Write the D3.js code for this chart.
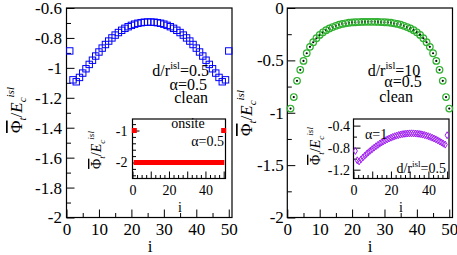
<!DOCTYPE html>
<html>
<head>
<meta charset="utf-8">
<script src="https://cdn.jsdelivr.net/npm/d3@7/dist/d3.min.js"></script>
<style>
  body { margin: 0; background: #fff; }
</style>
</head>
<body>
<svg id="chart" width="457" height="255"></svg>
<script>
'use strict';

// ---- Data -------------------------------------------------------------------

// site index i = 1..50
const sites = d3.range(1, 51);

// left panel: d/r^isl = 0.5, alpha = 0.5, clean
const leftVals = [
  -0.887, -1.080, -1.093, -1.064, -1.035, -1.006, -0.977, -0.949, -0.921, -0.894,
  -0.868, -0.844, -0.821, -0.800, -0.781, -0.764, -0.749, -0.736, -0.725, -0.716,
  -0.708, -0.702, -0.698, -0.695, -0.694, -0.694, -0.695, -0.698, -0.702, -0.708,
  -0.716, -0.725, -0.736, -0.749, -0.764, -0.781, -0.800, -0.821, -0.844, -0.868,
  -0.894, -0.921, -0.949, -0.977, -1.006, -1.035, -1.064, -1.093, -1.080, -0.887
];

// left inset: onsite, alpha = 0.5
const onsiteVals = [
  -1, -2, -2, -2, -2, -2, -2, -2, -2, -2,
  -2, -2, -2, -2, -2, -2, -2, -2, -2, -2,
  -2, -2, -2, -2, -2, -2, -2, -2, -2, -2,
  -2, -2, -2, -2, -2, -2, -2, -2, -2, -2,
  -2, -2, -2, -2, -2, -2, -2, -2, -2, -1
];

// right panel: d/r^isl = 10, alpha = 0.5, clean
const rightVals = [
  -0.960, -0.850, -0.695, -0.590, -0.505, -0.432, -0.371, -0.327, -0.289, -0.257,
  -0.232, -0.212, -0.195, -0.182, -0.170, -0.160, -0.152, -0.146, -0.141, -0.138,
  -0.136, -0.134, -0.133, -0.132, -0.132, -0.132, -0.132, -0.133, -0.134, -0.136,
  -0.138, -0.141, -0.146, -0.152, -0.160, -0.170, -0.182, -0.195, -0.212, -0.232,
  -0.257, -0.289, -0.327, -0.371, -0.432, -0.505, -0.590, -0.695, -0.850, -0.960
];

// right inset: alpha = 1, d/r^isl = 0.5
const alphaOneVals = [
  -0.860, -1.030, -1.050, -1.014, -0.979, -0.946, -0.914, -0.884, -0.855, -0.827,
  -0.800, -0.775, -0.751, -0.728, -0.706, -0.686, -0.667, -0.650, -0.634, -0.619,
  -0.605, -0.593, -0.582, -0.572, -0.563, -0.556, -0.550, -0.546, -0.543, -0.541,
  -0.540, -0.541, -0.543, -0.546, -0.550, -0.556, -0.563, -0.572, -0.582, -0.593,
  -0.605, -0.619, -0.634, -0.650, -0.667, -0.686, -0.706, -0.728, -0.745, -0.575
];

// tick values
const mainXTicks   = [0, 10, 20, 30, 40, 50];
const mainXMinor   = [5, 15, 25, 35, 45];
const leftYTicks   = [-2, -1.8, -1.6, -1.4, -1.2, -1, -0.8, -0.6];
const leftYMinor   = [-1.9, -1.7, -1.5, -1.3, -1.1, -0.9, -0.7];
const rightYTicks  = [-2, -1.5, -1, -0.5, 0];
const rightYMinor  = [-1.75, -1.25, -0.75, -0.25];
const insetXLabels = [0, 20, 40];
const insetXMajor  = [0, 10, 20, 30, 40, 50];
const insetXMinor  = [2.5, 5, 7.5, 12.5, 15, 17.5, 22.5, 25, 27.5, 32.5, 35, 37.5, 42.5, 45, 47.5];
const onsiteYTicks = [-2, -1];
const onsiteYMinor = [-2.4, -2.2, -1.8, -1.6, -1.4, -1.2, -0.8];
const alphaYTicks  = [-1.2, -0.8, -0.4];
const alphaYMinor  = [-1.0, -0.6];

// ---- Setup ------------------------------------------------------------------

const SERIF = 'Liberation Serif';
const svg = d3.select('#chart');
svg.append('rect').attr('width', 457).attr('height', 255).attr('fill', '#fff');

const fmt = d => String(+d.toFixed(2));

// draws frame + inward ticks for one set of axes
function drawAxes(g, x, y, opt) {
  const [x0, x1] = x.range();
  const [y0, y1] = y.range(); // y0 bottom, y1 top

  const bottom = g.append('g').attr('transform', `translate(0,${y0})`);
  bottom.call(d3.axisBottom(x).tickValues(opt.xMinor).tickSizeInner(-opt.minor).tickSizeOuter(0).tickFormat(''));
  bottom.append('g').call(d3.axisBottom(x).tickValues(opt.xMajor).tickSizeInner(-opt.major).tickSizeOuter(0).tickFormat(''));
  bottom.append('g').call(d3.axisBottom(x).tickValues(opt.xLabels).tickSize(0).tickPadding(opt.xPad).tickFormat(fmt));

  const left = g.append('g').attr('transform', `translate(${x0},0)`);
  left.call(d3.axisLeft(y).tickValues(opt.yMinor).tickSizeInner(-opt.minor).tickSizeOuter(0).tickFormat(''));
  left.append('g').call(d3.axisLeft(y).tickValues(opt.yMajor).tickSizeInner(-opt.major).tickSizeOuter(0).tickPadding(opt.yPad).tickFormat(fmt));

  g.selectAll('.domain').remove();
  g.selectAll('g').attr('font-family', SERIF);
  g.selectAll('.tick line').attr('stroke', '#000').attr('stroke-width', 1);
  g.selectAll('.tick text').attr('font-size', opt.fontSize).attr('fill', '#000')
    .attr('font-family', SERIF);

  g.append('rect')
    .attr('x', x0).attr('y', y1)
    .attr('width', x1 - x0).attr('height', y0 - y1)
    .attr('fill', 'none').attr('stroke', '#000').attr('stroke-width', 1.2);
}

// rotated y title:  Phi-bar_t / E_c^isl
function yTitle(g, bx, cy, size) {
  const t = g.append('text')
    .attr('transform', `translate(${bx},${cy}) rotate(-90)`)
    .attr('text-anchor', 'middle')
    .attr('font-size', size)
    .attr('font-family', SERIF);
  t.append('tspan').attr('text-decoration', 'overline').text('\u03A6');
  t.append('tspan').attr('font-size', size * 0.65).attr('font-style', 'italic').attr('dy', size * 0.25).text('t');
  t.append('tspan').attr('dy', -size * 0.25).text('/');
  t.append('tspan').attr('font-style', 'italic').text('E');
  t.append('tspan').attr('font-size', size * 0.65).attr('font-style', 'italic').attr('dy', size * 0.25).text('c');
  t.append('tspan').attr('font-size', size * 0.65).attr('font-style', 'italic').attr('dy', -size * 0.75).text('isl');
}

// plain label with "d/r^isl=" style superscript
function drLabel(g, x, y, size, value, anchor) {
  const t = g.append('text').attr('x', x).attr('y', y)
    .attr('font-size', size).attr('text-anchor', anchor || 'middle')
    .attr('font-family', SERIF);
  t.append('tspan').text('d/r');
  t.append('tspan').attr('font-size', size * 0.65).attr('dy', -size * 0.45).text('isl');
  t.append('tspan').attr('dy', size * 0.45).text('=' + value);
}

function label(g, x, y, size, txt, anchor) {
  g.append('text').attr('x', x).attr('y', y).attr('font-size', size)
    .attr('text-anchor', anchor || 'middle').attr('font-family', SERIF).text(txt);
}

const MAIN_FONT = 17, INSET_FONT = 14;

// ---- Left panel -------------------------------------------------------------

const xL = d3.scaleLinear().domain([0, 51]).range([66.5, 232]);
const yL = d3.scaleLinear().domain([-2, -0.6]).range([217.5, 8]);
const gL = svg.append('g');

drawAxes(gL, xL, yL, {
  xMajor: mainXTicks, xMinor: mainXMinor, xLabels: mainXTicks,
  yMajor: leftYTicks, yMinor: leftYMinor,
  major: 8, minor: 4.5, xPad: 5.5, yPad: 4.5, fontSize: MAIN_FONT
});

gL.append('g').selectAll('rect')
  .data(sites)
  .join('rect')
  .attr('x', d => xL(d) - 3.2).attr('y', (d, k) => yL(leftVals[k]) - 3.2)
  .attr('width', 6.4).attr('height', 6.4)
  .attr('fill', 'none').attr('stroke', '#0000ff').attr('stroke-width', 1);

drLabel(gL, 209, 76, 16, '0.5', 'end');
label(gL, 207, 90, 16, '\u03B1=0.5', 'end');
label(gL, 208, 103, 16, 'clean', 'end');
label(gL, 150, 252, MAIN_FONT, 'i');
yTitle(gL, 22, 110, 17);

// left inset
const xLi = d3.scaleLinear().domain([0, 51]).range([132.5, 225.5]);
const yLi = d3.scaleLinear().domain([-2.5, -0.64]).range([178.5, 119]);
const gLi = svg.append('g');
gLi.append('rect').attr('x', 132.5).attr('y', 119).attr('width', 93).attr('height', 59.5).attr('fill', '#fff');

drawAxes(gLi, xLi, yLi, {
  xMajor: insetXMajor, xMinor: insetXMinor, xLabels: insetXLabels,
  yMajor: onsiteYTicks, yMinor: onsiteYMinor,
  major: 7, minor: 3.5, xPad: 6.5, yPad: 5, fontSize: INSET_FONT
});

gLi.append('g').selectAll('rect')
  .data(sites)
  .join('rect')
  .attr('x', d => xLi(d) - 2.5).attr('y', (d, k) => yLi(onsiteVals[k]) - 2.5)
  .attr('width', 5).attr('height', 5)
  .attr('fill', '#ff0000');

label(gLi, 188, 128, INSET_FONT, 'onsite');
label(gLi, 224, 146, INSET_FONT, '\u03B1=0.5', 'end');
label(gLi, 180, 212, INSET_FONT, 'i');
yTitle(gLi, 101, 150, 14);

// ---- Right panel ------------------------------------------------------------

const xR = d3.scaleLinear().domain([0, 51]).range([287.3, 452.5]);
const yR = d3.scaleLinear().domain([-2, 0]).range([217.5, 8]);
const gR = svg.append('g');

drawAxes(gR, xR, yR, {
  xMajor: mainXTicks, xMinor: mainXMinor, xLabels: mainXTicks,
  yMajor: rightYTicks, yMinor: rightYMinor,
  major: 8, minor: 4.5, xPad: 5.5, yPad: 3.5, fontSize: MAIN_FONT
});

const dots = gR.append('g').selectAll('g')
  .data(sites)
  .join('g')
  .attr('transform', (d, k) => `translate(${xR(d)},${yR(rightVals[k])})`);
dots.append('circle').attr('r', 3.3).attr('fill', 'none').attr('stroke', '#2fb02f').attr('stroke-width', 1.2);
dots.append('circle').attr('r', 1.1).attr('fill', '#000');

drLabel(gR, 394, 76, 16, '10');
label(gR, 403, 87, 16, '\u03B1=0.5');
label(gR, 396, 102, 16, 'clean');
label(gR, 370, 252, MAIN_FONT, 'i');
yTitle(gR, 252, 113, 17);

// right inset
const xRi = d3.scaleLinear().domain([0, 51]).range([353.5, 449]);
const yRi = d3.scaleLinear().domain([-1.36, -0.28]).range([178.5, 119]);
const gRi = svg.append('g');
gRi.append('rect').attr('x', 353.5).attr('y', 119).attr('width', 95.5).attr('height', 59.5).attr('fill', '#fff');

drawAxes(gRi, xRi, yRi, {
  xMajor: insetXMajor, xMinor: insetXMinor, xLabels: insetXLabels,
  yMajor: alphaYTicks, yMinor: alphaYMinor,
  major: 7, minor: 3.5, xPad: 6.5, yPad: 3.5, fontSize: INSET_FONT
});

gRi.append('g').selectAll('path')
  .data(sites)
  .join('path')
  .attr('d', d3.symbol().type(d3.symbolDiamond).size(14))
  .attr('transform', (d, k) => `translate(${xRi(d)},${yRi(alphaOneVals[k])})`)
  .attr('fill', 'none').attr('stroke', '#a020f0').attr('stroke-width', 1);

label(gRi, 365, 139, INSET_FONT, '\u03B1=1', 'start');
drLabel(gRi, 446, 173, INSET_FONT, '0.5', 'end');
label(gRi, 401, 212, INSET_FONT, 'i');
yTitle(gRi, 320, 146, 14);
</script>
</body>
</html>
